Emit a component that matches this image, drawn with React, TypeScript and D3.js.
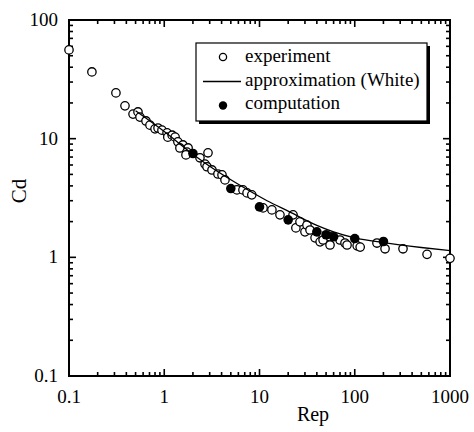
import React from "react";
import * as d3 from "d3";

// experiment (open circles): [Rep, Cd]
const experiment: [number, number][] = [
  [0.1, 56], [0.174, 36.5], [0.311, 24.3], [0.387, 18.9], [0.47, 16.1], [0.53, 16.8],
  [0.556, 15.2], [0.643, 14.1], [0.708, 13.0], [0.8, 12.1], [0.86, 12.3], [0.946, 11.8],
  [1.07, 11.2], [1.09, 10.3], [1.21, 10.7], [1.3, 10.3], [1.39, 9.4], [1.57, 8.85],
  [1.78, 8.35], [1.46, 8.35], [1.73, 7.7], [1.69, 7.3], [2.37, 6.9], [2.88, 7.6],
  [2.68, 6.1], [2.81, 5.8], [3.17, 5.45], [3.66, 5.04], [4.04, 4.95], [4.34, 4.49],
  [5.8, 3.7], [6.7, 3.7], [7.4, 3.49], [8.3, 3.36], [10.9, 2.61], [13.5, 2.51],
  [16.4, 2.28], [22.5, 2.28], [24.1, 1.77], [26.6, 1.99], [30, 1.64], [31.5, 1.87],
  [33.9, 1.7], [38.3, 1.46], [43.3, 1.35], [46.5, 1.4], [55, 1.49], [55, 1.27],
  [70, 1.4], [79, 1.32], [83, 1.27], [106, 1.25], [114, 1.22], [171, 1.32],
  [208, 1.18], [321, 1.18], [574, 1.06], [1000, 0.98],
];

// approximation (White): line
const approxRe = [0.5, 1, 2, 3, 5, 8.5, 12, 20, 40, 60, 100, 200, 500, 1000];
const approxCd = [17.2, 11.5, 7.4, 5.85, 4.5, 3.5, 3.0, 2.45, 1.86, 1.64, 1.46, 1.33, 1.21, 1.14];

// computation (filled circles)
const compRe = [2, 5, 10, 20, 40, 50, 60, 100, 200];
const compCd = [7.5, 3.8, 2.66, 2.07, 1.64, 1.55, 1.49, 1.44, 1.36];

const xTickLabels = ["0.1", "1", "10", "100", "1000"];
const yTickLabels = ["0.1", "1", "10", "100"];

const legendItems = ["experiment", "approximation (White)", "computation"];

const W = 474;
const H = 432;
const serif = { fontFamily: "Liberation Serif, DejaVu Serif, serif" };

export default function App() {
  const left = 69, right = 450, top = 20, bottom = 376;
  const x = d3.scaleLog().domain([0.1, 1000]).range([left, right]);
  const y = d3.scaleLog().domain([0.1, 100]).range([bottom, top]);

  const isMajor = (v: number) => Math.abs(Math.log10(v) - Math.round(Math.log10(v))) < 1e-9;
  const xTicks = x.ticks();
  const yTicks = y.ticks();

  const line = d3
    .line<number>()
    .x((d) => x(d))
    .y((_, i) => y(approxCd[i]))
    .curve(d3.curveMonotoneX);

  const lx = 196, ly = 43, lw = 231, lh = 78;

  return (
    <svg width={W} height={H} style={{ position: "absolute", left: 0, top: 0, background: "#fff" }}>
      {/* ticks */}
      <g stroke="#000" strokeWidth={1.6}>
        {xTicks.map((t, i) => {
          const len = isMajor(t) ? 7 : 4;
          return (
            <g key={"x" + i}>
              <line x1={x(t)} x2={x(t)} y1={bottom} y2={bottom - len} />
              <line x1={x(t)} x2={x(t)} y1={top} y2={top + len} />
            </g>
          );
        })}
        {yTicks.map((t, i) => {
          const len = isMajor(t) ? 7 : 4;
          return (
            <g key={"y" + i}>
              <line x1={left} x2={left + len} y1={y(t)} y2={y(t)} />
              <line x1={right} x2={right - len} y1={y(t)} y2={y(t)} />
            </g>
          );
        })}
      </g>
      <rect x={left} y={top} width={right - left} height={bottom - top} fill="none" stroke="#000" strokeWidth={2} />

      {/* tick labels */}
      <g style={{ ...serif, fontSize: 19 }} fill="#000">
        {xTickLabels.map((s) => (
          <text key={s} x={x(+s)} y={403} textAnchor="middle">{s}</text>
        ))}
        {yTickLabels.map((s) => (
          <text key={s} x={58} y={y(+s) + 6} textAnchor="end">{s}</text>
        ))}
      </g>
      <text x={313} y={421} style={{ ...serif, fontSize: 20 }} textAnchor="middle">Rep</text>
      <text transform="translate(26,191) rotate(-90)" style={{ ...serif, fontSize: 21 }} textAnchor="middle">Cd</text>

      {/* data */}
      <g fill="#fff" stroke="#000" strokeWidth={1.3}>
        {experiment.map((d, i) => (
          <circle key={i} cx={x(d[0])} cy={y(d[1])} r={4.2} />
        ))}
      </g>
      <path d={line(approxRe) ?? ""} fill="none" stroke="#000" strokeWidth={1.3} />
      <g fill="#000">
        {compRe.map((r, i) => (
          <circle key={i} cx={x(r)} cy={y(compCd[i])} r={4.8} />
        ))}
      </g>

      {/* legend */}
      <rect x={lx + 3} y={ly + 3} width={lw} height={lh} fill="#000" />
      <rect x={lx} y={ly} width={lw} height={lh} fill="#fff" stroke="#000" strokeWidth={1.2} />
      <circle cx={223} cy={57} r={3.6} fill="#fff" stroke="#000" strokeWidth={1.3} />
      <line x1={203} x2={241} y1={81.5} y2={81.5} stroke="#000" strokeWidth={1.3} />
      <circle cx={223} cy={105.5} r={4.2} fill="#000" />
      <g style={{ ...serif, fontSize: 19 }}>
        {legendItems.map((s, i) => (
          <text key={s} x={245} y={62 + i * 23.5}>{s}</text>
        ))}
      </g>
    </svg>
  );
}
